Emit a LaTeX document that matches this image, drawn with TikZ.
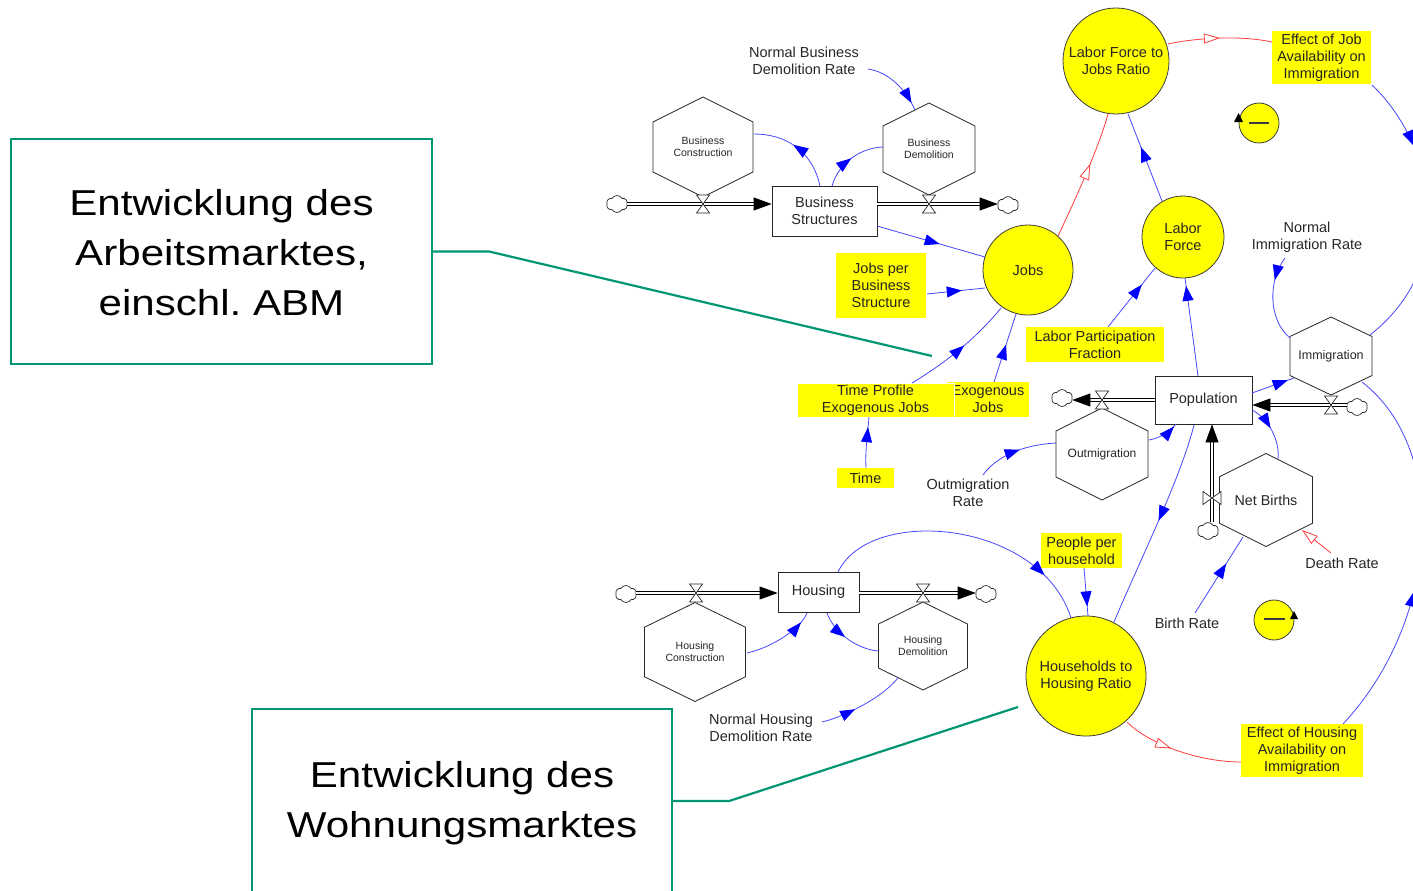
\documentclass[tikz,border=0pt]{standalone}
\usepackage{fontspec}
\setmainfont{Liberation Sans}
\newfontfamily\bigfont[FakeStretch=1.17]{Liberation Sans}
\usetikzlibrary{arrows.meta,shapes.symbols,decorations.markings,calc}
\definecolor{bluel}{RGB}{70,70,255}
\definecolor{bluea}{RGB}{0,0,255}
\definecolor{redl}{RGB}{255,60,60}
\definecolor{tealc}{RGB}{0,150,115}
\definecolor{yel}{RGB}{255,255,0}
\definecolor{outl}{RGB}{60,60,60}
\newcommand{\lblf}{\fontsize{14.5}{17}\selectfont}
\tikzset{
 blu/.style={draw=bluel, line width=0.8pt},
 conn/.style={blu, postaction={decorate}, decoration={markings, mark=at position #1 with {\arrow[fill=bluea,draw=bluea]{Triangle[length=15pt,width=11pt]}}}},
 rconn/.style={draw=redl, line width=0.8pt, postaction={decorate}, decoration={markings, mark=at position #1 with {\arrow{Triangle[fill=white,length=16pt,width=10pt]}}}},
 tealbox/.style={draw=tealc, line width=2.2pt, inner sep=0},
 tealline/.style={draw=tealc, line width=2.2pt},
 bigtxt/.style={font=\bigfont\fontsize{36}{50}\selectfont, align=center, text=black},
 stock/.style={draw=black!85, fill=white, line width=0.8pt, font=\lblf, align=center, inner sep=0},
 circ/.style={circle, draw=outl, fill=yel, line width=0.8pt, inner sep=0, font=\lblf, align=center},
 ybox/.style={fill=yel, inner sep=0, font=\lblf, align=center},
 plbl/.style={font=\lblf, align=center, inner sep=1pt},
 hexline/.style={draw=black!85, fill=white, line width=0.8pt},
 hexlbl/.style={inner sep=0, align=center},
 pipe/.style={draw=black, line width=0.8pt, double=white, double distance=2.6pt, -{Triangle[length=18pt,width=13pt,fill=black]}},
 valvest/.style={draw=black!85, fill=white, line width=0.7pt},
 cloudst/.style={cloud, cloud puffs=6, cloud puff arc=120, aspect=1.25, draw=black!85, fill=white, line width=0.7pt, minimum width=21pt, minimum height=17pt, inner sep=0},
}
\newcommand{\hexa}[8]{%
 \filldraw[hexline] ({#2},{#3-#5/2}) -- ({#2+#4/2},{#3-#5/4}) -- ({#2+#4/2},{#3+#5/4}) -- ({#2},{#3+#5/2}) -- ({#2-#4/2},{#3+#5/4}) -- ({#2-#4/2},{#3-#5/4}) -- cycle;
 \node[hexlbl, minimum width=#4, minimum height=#5, font=\fontsize{#6}{#7}\selectfont] (#1) at (#2,#3) {#8};}
\newcommand{\valveh}[3]{\coordinate (#1) at (#2,#3);
 \filldraw[valvest] ([shift={(-6.5,-9)}]#1) -- ([shift={(6.5,-9)}]#1) -- ([shift={(-6.5,9)}]#1) -- ([shift={(6.5,9)}]#1) -- cycle;}
\newcommand{\valvev}[3]{\coordinate (#1) at (#2,#3);
 \filldraw[valvest] ([shift={(-9,-6.5)}]#1) -- ([shift={(-9,6.5)}]#1) -- ([shift={(9,-6.5)}]#1) -- ([shift={(9,6.5)}]#1) -- cycle;}
\begin{document}
\begin{tikzpicture}[x=1pt,y=-1pt, every node/.append style={text=black!85}]
\useasboundingbox (0,0) rectangle (1413,891);
\begin{scope}
\clip (0,0) rectangle (1413,891);
% ---- annotation boxes ----
\node[tealbox, minimum width=421, minimum height=225] (A1) at (221.5,251.5) {};
\node[bigtxt] (A1t) at (221.5,253) {Entwicklung des\\Arbeitsmarktes,\\einschl.\ ABM};
\node[tealbox, minimum width=420, minimum height=196] (A2) at (462,807) {};
\node[bigtxt] (A2t) at (462,803) {Entwicklung des\\Wohnungsmarktes};
\coordinate (A1end) at (932,356);
\coordinate (A2end) at (1018,707);
\draw[tealline] (A1.east) -- ++(56,0) -- (A1end);
\draw[tealline] ([shift={(0,-6)}]A2.east) -- ++(56,0) -- (A2end);
% ---- hexagons (flows) ----
\hexa{BC}{703}{147}{100}{100}{10.5}{12}{Business\\Construction}
\hexa{BD}{929}{149}{92}{92}{10.5}{12}{Business\\Demolition}
\hexa{IM}{1331}{356}{82}{78}{12.5}{14}{Immigration}
\hexa{OM}{1102}{454}{92}{92}{12}{14}{Outmigration}
\hexa{NB}{1266}{500}{93}{93}{14.3}{16}{Net Births}
\hexa{HC}{695}{652}{101}{99}{10.5}{12}{Housing\\Construction}
\hexa{HD}{923}{646}{89}{88}{10.5}{12}{Housing\\Demolition}
% ---- stocks ----
\node[stock, minimum width=105, minimum height=50] (BS) at (824.5,211) {Business\\Structures};
\node[stock, minimum width=97, minimum height=48] (POP) at (1203.5,400) {Population};
\node[stock, minimum width=81, minimum height=40] (HOU) at (818.5,592) {Housing};
% ---- auxiliaries ----
\node[circ, minimum size=106] (LFJR) at (1116,61) {Labor Force to\\Jobs Ratio};
\node[circ, minimum size=90] (JOBS) at (1028,270) {Jobs};
\node[circ, minimum size=82] (LF) at (1183,237) {Labor\\Force};
\node[circ, minimum size=120] (HHR) at (1086,676) {Households to\\Housing Ratio};
\node[ybox, minimum width=99, minimum height=53] (EJA) at (1321.5,57.5) {Effect of Job\\Availability on\\Immigration};
\node[ybox, minimum width=90, minimum height=65] (JPBS) at (881,285.5) {Jobs per\\Business\\Structure};
\node[ybox, minimum width=138, minimum height=35] (LPF) at (1095,344.5) {Labor Participation\\Fraction};
\node[ybox, minimum width=82, minimum height=35] (EXJ) at (988,399.5) {Exogenous\\Jobs};
\node[ybox, draw=white, line width=0.8pt, minimum width=157, minimum height=34] (TPEJ) at (875.5,400) {Time Profile\\Exogenous Jobs};
\node[ybox, minimum width=57, minimum height=20] (TIME) at (865.5,478) {Time};
\node[ybox, minimum width=81, minimum height=35] (PPH) at (1081.5,550.5) {People per\\household};
\node[ybox, minimum width=122, minimum height=53] (EHA) at (1302,750.5) {Effect of Housing\\Availability on\\Immigration};
\node[plbl] (NBDR) at (804,61) {Normal Business\\Demolition Rate};
\node[plbl] (NIR) at (1307,237) {Normal\\Immigration Rate};
\node[plbl] (OMR) at (968,493) {Outmigration\\Rate};
\node[plbl] (DR) at (1342,563) {Death Rate};
\node[plbl] (BR) at (1187,623) {Birth Rate};
\node[plbl] (NHDR) at (761,728) {Normal Housing\\Demolition Rate};
% ---- loop markers ----
\node[circ, minimum size=40] (LOOPA) at (1259,123) {};
\draw[outl, line width=1.3pt] ([shift={(-10,0)}]LOOPA.center) -- ([shift={(10,0)}]LOOPA.center);
\fill[black] ([shift={(-25,-1)}]LOOPA.center) -- ([shift={(-16,-1)}]LOOPA.center) -- ([shift={(-20.5,-10)}]LOOPA.center) -- cycle;
\node[circ, minimum size=40] (LOOPB) at (1274,620) {};
\draw[outl, line width=1.3pt] ([shift={(-10,-1)}]LOOPB.center) -- ([shift={(11,-1)}]LOOPB.center);
\fill[black] ([shift={(16,-1)}]LOOPB.center) -- ([shift={(24,-1)}]LOOPB.center) -- ([shift={(20,-9)}]LOOPB.center) -- cycle;
% ---- clouds ----
\node[cloudst] (cl1) at (617,204) {};
\node[cloudst] (cl2) at (1008,205) {};
\node[cloudst] (cl3) at (1357,407) {};
\node[cloudst] (cl4) at (1062,398) {};
\node[cloudst] (cl5) at (1208,531) {};
\node[cloudst] (cl6) at (626,594) {};
\node[cloudst] (cl7) at (986,594) {};
% ---- pipes ----
\draw[pipe] (cl1.east |- 0,204) -- ([shift={(0,-7)}]BS.west);
\draw[pipe] ([shift={(0,-7)}]BS.east) -- (cl2.west |- 0,204);
\draw[pipe] (cl3.west |- 0,405) -- ([shift={(0,5)}]POP.east);
\draw[pipe] (POP.west) -- (cl4.east |- 0,400);
\draw[pipe] ([shift={(4,0)}]cl5.north) -- ([shift={(8.5,0)}]POP.south);
\draw[pipe] (cl6.east |- 0,593) -- ([shift={(0,1)}]HOU.west);
\draw[pipe] ([shift={(0,1)}]HOU.east) -- (cl7.west |- 0,593);
\valveh{v1}{703}{204}
\valveh{v2}{929}{204}
\valveh{v3}{1331}{405}
\valveh{v4}{1102}{400}
\valvev{v5}{1212}{498}
\valveh{v6}{696}{593}
\valveh{v7}{923}{593}
% ---- connectors ----
\draw[conn=0.55] ([shift={(-4.5,-25)}]BS.center) .. controls (812,150) and (785,134) .. ([shift={(51,-13)}]BC.center);
\draw[conn=0.5] ([shift={(7.5,-25)}]BS.center) .. controls (838,165) and (858,148) .. ([shift={(-46,-2)}]BD.center);
\draw[conn=0.88] ([shift={(64,8)}]NBDR.center) .. controls (888,72) and (905,88) .. ([shift={(-14,-39)}]BD.center);
\draw[conn=0.58] ([shift={(52.5,15)}]BS.center) -- ([shift={(-43,-13)}]JOBS.center);
\draw[conn=0.6] ([shift={(46,8.5)}]JPBS.center) -- ([shift={(-43,18)}]JOBS.center);
\draw[conn=0.55] ([shift={(36.5,-17)}]TPEJ.center) .. controls (942,365) and (975,340) .. ([shift={(-27,38)}]JOBS.center);
\draw[conn=0.55] ([shift={(6,-17.5)}]EXJ.center) -- ([shift={(-12,44)}]JOBS.center);
\draw[conn=0.8] ([shift={(0.5,-10)}]TIME.center) .. controls (865,450) and (868,430) .. ([shift={(-6.5,17)}]TPEJ.center);
\draw[rconn=0.6] ([shift={(30,-34)}]JOBS.center) .. controls (1075,200) and (1098,150) .. ([shift={(-8,53)}]LFJR.center);
\draw[conn=0.62] ([shift={(-21,-36)}]LF.center) -- ([shift={(12,53)}]LFJR.center);
\draw[rconn=0.5] ([shift={(52,-17)}]LFJR.center) .. controls (1195,38) and (1240,35) .. ([shift={(-49.5,-15.5)}]EJA.center);
\draw[conn=0.26] ([shift={(50.5,27.5)}]EJA.center) .. controls (1430,140) and (1465,260) .. ([shift={(39,-21)}]IM.center);
\draw[rconn=0.42] ([shift={(41,46)}]HHR.center) .. controls (1150,745) and (1200,762) .. ([shift={(-61,11.5)}]EHA.center);
\draw[conn=0.4] ([shift={(41,-26.5)}]EHA.center) .. controls (1440,620) and (1450,450) .. ([shift={(31,26)}]IM.center);
\draw[conn=0.28] ([shift={(-22,21)}]NIR.center) .. controls (1268,280) and (1268,320) .. ([shift={(-41,-18)}]IM.center);
\draw[conn=0.85] ([shift={(48.5,-7)}]POP.center) -- ([shift={(-37,22)}]IM.center);
\draw[conn=0.92] ([shift={(-5.5,-24)}]POP.center) -- ([shift={(2,41)}]LF.center);
\draw[conn=0.72] ([shift={(13,-17.5)}]LPF.center) -- ([shift={(-28,31)}]LF.center);
\draw[conn=0.9] ([shift={(47,-14)}]OM.center) .. controls (1160,438) and (1170,432) .. ([shift={(-27.5,24)}]POP.center);
\draw[conn=0.55] ([shift={(15,-18)}]OMR.center) .. controls (995,458) and (1020,445) .. ([shift={(-46,-11)}]OM.center);
\draw[conn=0.45] ([shift={(48.5,10)}]POP.center) .. controls (1268,418) and (1280,440) .. ([shift={(12,-41)}]NB.center);
\draw[draw=redl, line width=0.8pt, -{Triangle[fill=white,length=16pt,width=10pt]}] ([shift={(-11,-10)}]DR.center) -- ([shift={(36,30)}]NB.center);
\draw[conn=0.65] ([shift={(8,-10)}]BR.center) -- ([shift={(-23,37)}]NB.center);
\draw[conn=0.48] ([shift={(-9.5,25)}]POP.center) .. controls (1180,480) and (1140,560) .. ([shift={(28,-54)}]HHR.center);
\draw[conn=0.8] ([shift={(2.5,17.5)}]PPH.center) -- ([shift={(2,-60)}]HHR.center);
\draw[conn=0.82] ([shift={(19.5,-20)}]HOU.center) .. controls (870,505) and (1040,520) .. ([shift={(-15,-58)}]HHR.center);
\draw[conn=0.85] ([shift={(52,1)}]HC.center) .. controls (770,648) and (800,630) .. ([shift={(-11.5,21)}]HOU.center);
\draw[conn=0.45] ([shift={(8.5,21)}]HOU.center) .. controls (835,635) and (860,650) .. ([shift={(-44,5)}]HD.center);
\draw[conn=0.4] ([shift={(61,-6)}]NHDR.center) .. controls (840,718) and (880,700) .. ([shift={(-25,32)}]HD.center);
\end{scope}
\end{tikzpicture}
\end{document}
